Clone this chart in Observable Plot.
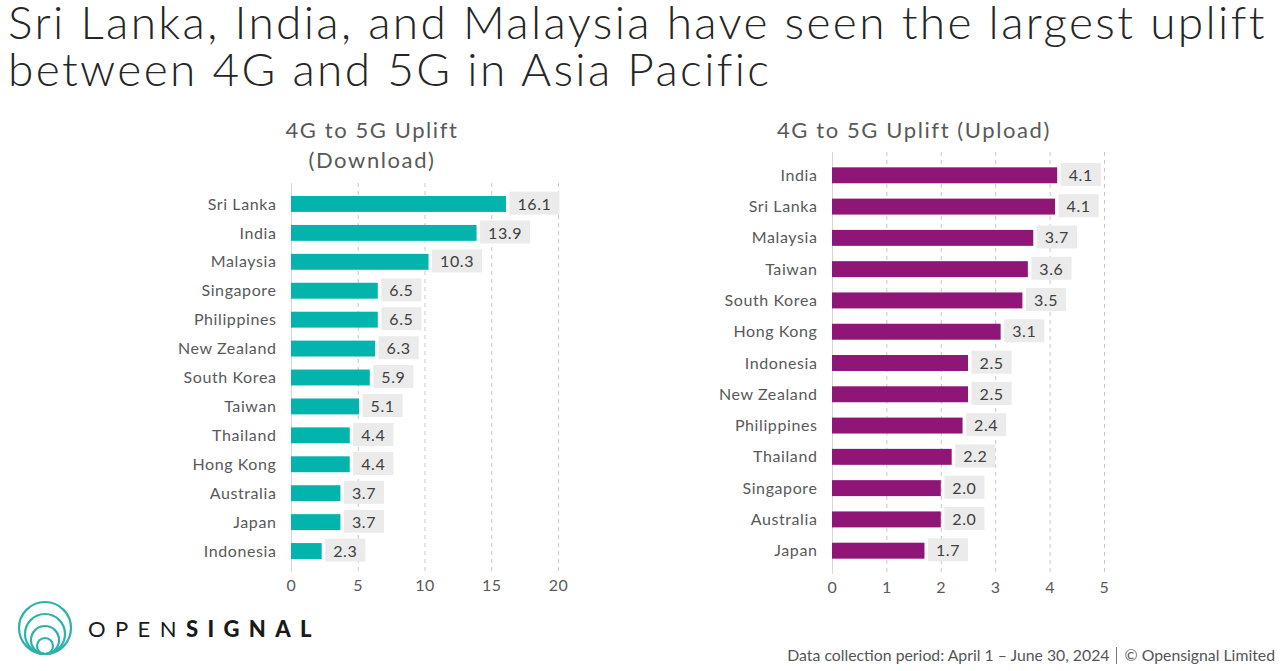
<!DOCTYPE html>
<html>
<head>
<meta charset="utf-8">
<script src="https://cdn.jsdelivr.net/npm/d3@7"></script>
<script src="https://cdn.jsdelivr.net/npm/@observablehq/plot@0.6"></script>
<style>
  html, body { margin: 0; padding: 0; background: #fff; }
  #page { position: relative; width: 1285px; height: 671px; overflow: hidden; font-family: Lato, "Open Sans", sans-serif; }
  .title { position: absolute; left: 8px; font-size: 46px; line-height: 44px; letter-spacing: 2.35px; color: #262626; font-weight: 300; white-space: nowrap; }
  .sub { position: absolute; font-size: 22px; line-height: 30px; letter-spacing: 1.6px; color: #595959; text-align: center; white-space: nowrap; }
  #chartL { position: absolute; left: 0px; top: 170px; }
  #chartR { position: absolute; left: 620px; top: 140px; }
  #footer { position: absolute; right: 10px; top: 645px; font-size: 15.8px; color: #555; white-space: nowrap; }
  #footer .sep { display: inline-block; width: 1px; height: 17px; background: #777; vertical-align: -3px; margin: 0 8px 0 6px; }
  #logo { position: absolute; left: 14px; top: 600px; }
  #brand { position: absolute; left: 88px; top: 615px; font-size: 22px; letter-spacing: 9.4px; color: #1a1a1a; font-family: Lato, sans-serif; }
  #brand b { font-weight: 900; }
</style>
</head>
<body>
<div id="page">
  <div class="title" style="top:0px;">Sri Lanka, India, and Malaysia have seen the largest uplift</div>
  <div class="title" style="top:47px;">between 4G and 5G in Asia Pacific</div>
  <div class="sub" id="subL" style="left:222px; top:115px; width:300px;">4G to 5G Uplift<br>(Download)</div>
  <div class="sub" id="subR" style="left:714px; top:115px; width:400px;">4G to 5G Uplift (Upload)</div>
  <div id="chartL"></div>
  <div id="chartR"></div>
  <svg id="logo" width="64" height="64" viewBox="0 0 64 64">
    <g fill="none" stroke="#2bb3a9" stroke-width="2.2">
      <circle cx="31" cy="28" r="26"/>
      <circle cx="31" cy="34" r="20"/>
      <circle cx="31" cy="40" r="14"/>
      <circle cx="31" cy="46" r="8"/>
    </g>
  </svg>
  <div id="brand">OPEN<b>SIGNAL</b></div>
  <div id="footer">Data collection period: April 1 – June 30, 2024<span class="sep"></span>© Opensignal Limited</div>
</div>
<script>
// ---- Data ----
const dlCountries = ["Sri Lanka","India","Malaysia","Singapore","Philippines","New Zealand","South Korea","Taiwan","Thailand","Hong Kong","Australia","Japan","Indonesia"];
const dlValues = [16.1, 13.9, 10.3, 6.5, 6.5, 6.3, 5.9, 5.1, 4.4, 4.4, 3.7, 3.7, 2.3];
const dlTicks = [0, 5, 10, 15, 20];

const ulCountries = ["India","Sri Lanka","Malaysia","Taiwan","South Korea","Hong Kong","Indonesia","New Zealand","Philippines","Thailand","Singapore","Australia","Japan"];
const ulValues = [4.14, 4.1, 3.7, 3.6, 3.5, 3.1, 2.5, 2.5, 2.4, 2.2, 2.0, 2.0, 1.7];
const ulTicks = [0, 1, 2, 3, 4, 5];

const FONT = 'Lato, "Open Sans", sans-serif';

function makeChart(opts) {
  const data = opts.countries.map((c, i) => ({country: c, value: opts.values[i]}));
  return Plot.plot({
    width: opts.width, height: opts.height,
    marginLeft: opts.marginLeft, marginRight: opts.marginRight,
    marginTop: opts.marginTop, marginBottom: opts.marginBottom,
    style: {fontFamily: FONT, fontSize: "16px", color: "#595959", background: "transparent", overflow: "visible", letterSpacing: "0.6px"},
    x: {domain: [opts.ticks[0], opts.ticks[opts.ticks.length - 1]], ticks: opts.ticks, tickFormat: d3.format("d"), tickSize: 0, tickPadding: 7, label: null},
    y: {domain: opts.countries, padding: opts.padding, round: false, tickSize: 0, tickPadding: 15, label: null},
    marks: [
      Plot.gridX(opts.ticks.filter(t => t > 0), {stroke: "#c8c8c8", strokeOpacity: 1, strokeDasharray: "4,4"}),
      Plot.ruleX([0], {stroke: "#d6d6d6"}),
      Plot.barX(data, {x: "value", y: "country", fill: opts.color}),
      Plot.text(data, {x: "value", y: "country", text: d => d.value.toFixed(1), textAnchor: "start", dx: 11, fill: "#404040", fontSize: 16, className: "vlabel"})
    ]
  });
}

function addBoxes(svg) {
  const g = svg.querySelector("g.vlabel") || svg.querySelector('g[aria-label="text"]');
  if (!g) return;
  const texts = Array.from(g.querySelectorAll("text"));
  const boxes = texts.map(t => ({t, b: t.getBBox(), tr: t.getAttribute("transform")}));
  boxes.forEach(({t, b, tr}) => {
    const r = document.createElementNS("http://www.w3.org/2000/svg", "rect");
    r.setAttribute("x", b.x - 8);
    r.setAttribute("width", b.width + 16);
    const cy = b.y + b.height / 2;
    r.setAttribute("y", cy - 11.5);
    r.setAttribute("height", 23);
    r.setAttribute("fill", "#ebebeb");
    if (tr) r.setAttribute("transform", tr);
    g.insertBefore(r, t);
  });
}

const left = makeChart({
  countries: dlCountries, values: dlValues, ticks: dlTicks, color: "#02b4ac",
  width: 600, height: 432, marginLeft: 291, marginRight: 42, marginTop: 13, marginBottom: 30, padding: 0.45
});
document.getElementById("chartL").appendChild(left);
addBoxes(left);

const right = makeChart({
  countries: ulCountries, values: ulValues, ticks: ulTicks, color: "#8f1577",
  width: 660, height: 464, marginLeft: 212, marginRight: 176, marginTop: 12, marginBottom: 30, padding: 0.49
});
document.getElementById("chartR").appendChild(right);
addBoxes(right);
</script>
</body>
</html>
